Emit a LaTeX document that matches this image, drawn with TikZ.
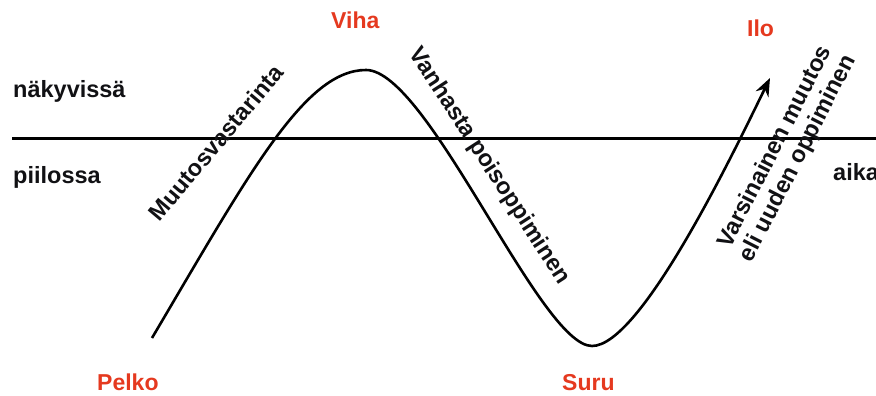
\documentclass[tikz,border=0pt]{standalone}
\usepackage{fontspec}
\setmainfont{Liberation Sans}
\usetikzlibrary{arrows.meta}
\definecolor{emo}{RGB}{229,57,31}
\definecolor{ink}{RGB}{17,17,20}
\tikzset{
  lbl/.style={font=\bfseries\fontsize{23.5}{27}\selectfont, text=ink, inner sep=0pt},
  emolbl/.style={font=\bfseries\fontsize{23}{27}\selectfont, text=emo, inner sep=0pt, anchor=base west},
  rlbl/.style={font=\bfseries\fontsize{23.5}{25.5}\selectfont, text=ink, inner sep=0pt, align=center},
  curve/.style={line width=2.6pt, draw=black},
  axis/.style={line width=3pt, draw=black}
}
\begin{document}
\begin{tikzpicture}[x=1pt,y=-1pt]
\useasboundingbox (0,0) rectangle (876,396);
% horizon line
\coordinate (hl) at (12,138);
\coordinate (hr) at (880,138);
\draw[axis] (hl) -- (hr);
% curve points
\coordinate (start) at (152,338);
\coordinate (peak) at (366,70);
\coordinate (trough) at (592,346);
\coordinate (tip) at (770,78);
\draw[curve, -{Stealth[length=18pt,width=14pt]}]
  (start) .. controls (250,172) and (305,70) .. (peak)
          .. controls (428,70) and (540,346) .. (trough)
          .. controls (640,346) and (730,160) .. (tip);
% side labels
\node[lbl, anchor=base west] (nak) at (13,98) {näkyvissä};
\node[lbl, anchor=base west] (pii) at (13,183) {piilossa};
\node[lbl, anchor=base west] (aika) at (833,180) {aika};
% emotion labels
\node[emolbl] (viha) at (331,29) {Viha};
\node[emolbl] (ilo) at (747,37) {Ilo};
\node[emolbl] (pelko) at (97,390) {Pelko};
\node[emolbl] (suru) at (562,390) {Suru};
% rotated labels
\node[rlbl, rotate=50] (muutos) at (216,143) {Muutosvastarinta};
\node[rlbl, rotate=-57] (vanhasta) at (489,166) {Vanhasta poisoppiminen};
\node[rlbl, rotate=63] (varsin) at (787,153) {Varsinainen muutos\\eli uuden oppiminen};
\end{tikzpicture}
\end{document}
